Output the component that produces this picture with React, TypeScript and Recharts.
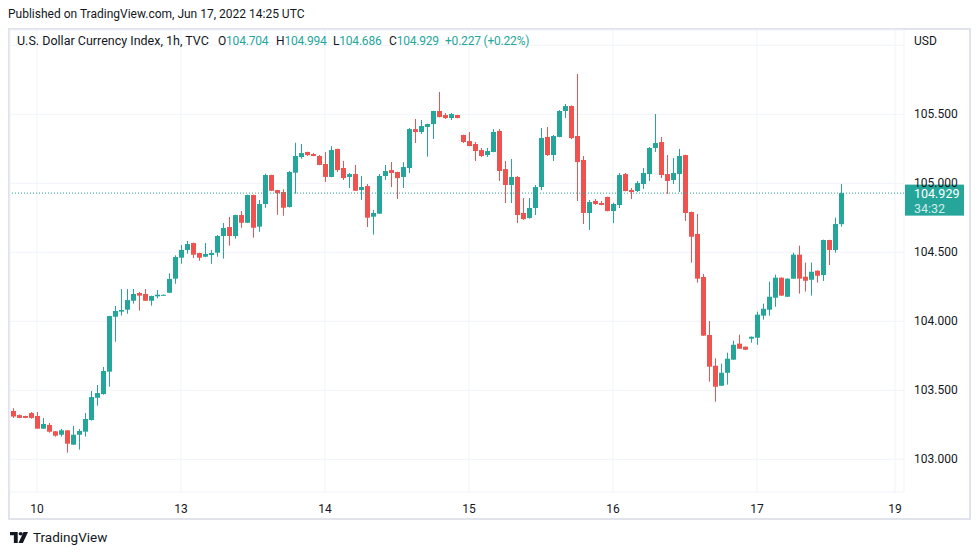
import React from "react";
import {
  ComposedChart,
  Bar,
  XAxis,
  YAxis,
  CartesianGrid,
  ReferenceLine,
} from "recharts";

// hourly candles, Jun 10 -> Jun 17 2022
const opens = [
  103.35, 103.32, 103.314, 103.335, 103.314, 103.222, 103.249, 103.203, 103.178, 103.21,
  103.106, 103.178, 103.2, 103.285, 103.446, 103.473, 103.635, 104.033, 104.07, 104.084,
  104.149, 104.205, 104.198, 104.149, 104.181, 104.19, 104.207, 104.309, 104.461, 104.517,
  104.567, 104.495, 104.468, 104.48, 104.497, 104.618, 104.683, 104.618, 104.77, 104.714,
  104.915, 104.686, 104.85, 105.06, 104.951, 104.937, 104.828, 105.077, 105.19, 105.227,
  105.212, 105.198, 105.14, 105.046, 105.249, 105.111, 105.046, 105.067, 104.951, 104.98,
  104.758, 104.78, 105.053, 105.096, 105.082, 105.046, 105.111, 105.393, 105.372, 105.408,
  105.43, 105.524, 105.495, 105.473, 105.495, 105.35, 105.306, 105.285, 105.241, 105.205,
  105.227, 105.379, 105.103, 104.988, 105.046, 104.785, 104.748, 104.821, 104.973, 105.336,
  105.205, 105.336, 105.524, 105.56, 105.343, 105.169, 104.785, 104.872, 104.857, 104.901,
  104.799, 104.843, 105.067, 104.951, 104.944, 104.995, 105.067, 105.256, 105.299, 105.067,
  105.024, 105.067, 105.205, 104.792, 104.633, 104.321, 103.901, 103.678, 103.533, 103.627,
  103.722, 103.838, 103.816, 103.874, 103.881, 104.041, 104.084, 104.171, 104.316, 104.178,
  104.309, 104.483, 104.323, 104.301, 104.367, 104.335, 104.589, 104.517, 104.704,
];
const highs = [
  103.37, 103.325, 103.316, 103.342, 103.343, 103.299, 103.263, 103.205, 103.22, 103.212,
  103.241, 103.22, 103.335, 103.495, 103.538, 103.669, 104.04, 104.111, 104.234, 104.234,
  104.234, 104.212, 104.234, 104.186, 104.227, 104.195, 104.348, 104.478, 104.553, 104.582,
  104.57, 104.497, 104.567, 104.517, 104.625, 104.712, 104.756, 104.772, 104.799, 104.918,
  104.918, 104.879, 105.07, 105.062, 104.953, 104.957, 105.089, 105.294, 105.285, 105.229,
  105.22, 105.205, 105.227, 105.27, 105.251, 105.162, 105.075, 105.133, 105.053, 104.995,
  104.807, 105.067, 105.133, 105.154, 105.084, 105.154, 105.401, 105.466, 105.459, 105.432,
  105.526, 105.662, 105.509, 105.509, 105.497, 105.352, 105.372, 105.299, 105.256, 105.256,
  105.393, 105.393, 105.162, 105.176, 105.053, 104.893, 104.893, 104.988, 105.401, 105.408,
  105.35, 105.531, 105.575, 105.565, 105.792, 105.198, 104.879, 104.886, 104.872, 104.903,
  104.86, 105.075, 105.075, 104.966, 105.017, 105.111, 105.263, 105.502, 105.336, 105.205,
  105.183, 105.249, 105.207, 104.795, 104.778, 104.343, 104.002, 103.732, 103.693, 103.773,
  103.859, 103.903, 103.818, 103.89, 104.07, 104.128, 104.287, 104.338, 104.318, 104.311,
  104.497, 104.548, 104.425, 104.425, 104.369, 104.592, 104.591, 104.751, 104.994,
];
const lows = [
  103.3, 103.298, 103.298, 103.294, 103.222, 103.22, 103.193, 103.164, 103.164, 103.048,
  103.104, 103.07, 103.164, 103.28, 103.388, 103.468, 103.526, 103.852, 104.041, 104.055,
  104.128, 104.077, 104.147, 104.113, 104.167, 104.188, 104.205, 104.272, 104.417, 104.49,
  104.459, 104.439, 104.464, 104.417, 104.468, 104.454, 104.548, 104.599, 104.678, 104.712,
  104.606, 104.649, 104.823, 104.944, 104.772, 104.765, 104.825, 104.925, 105.178, 105.198,
  105.196, 105.131, 105.009, 105.044, 105.082, 105.024, 104.966, 104.944, 104.879, 104.683,
  104.628, 104.778, 105.024, 104.973, 104.886, 104.966, 105.075, 105.292, 105.357, 105.193,
  105.321, 105.478, 105.466, 105.459, 105.471, 105.292, 105.268, 105.162, 105.191, 105.191,
  105.225, 105.017, 104.857, 104.857, 104.712, 104.734, 104.745, 104.77, 104.951, 105.198,
  105.162, 105.334, 105.473, 105.32, 104.872, 104.705, 104.662, 104.843, 104.841, 104.797,
  104.712, 104.821, 104.942, 104.886, 104.937, 104.959, 105.017, 105.227, 105.038, 104.922,
  104.995, 104.937, 104.727, 104.425, 104.28, 103.894, 103.562, 103.417, 103.531, 103.541,
  103.72, 103.799, 103.792, 103.845, 103.83, 104.012, 104.041, 104.106, 104.184, 104.176,
  104.307, 104.2, 104.215, 104.186, 104.28, 104.292, 104.408, 104.497, 104.686,
];
const closes = [
  103.31, 103.3, 103.3, 103.3, 103.222, 103.256, 103.2, 103.171, 103.21, 103.113,
  103.178, 103.205, 103.292, 103.451, 103.48, 103.64, 104.038, 104.075, 104.082, 104.154,
  104.198, 104.186, 104.149, 104.183, 104.193, 104.192, 104.307, 104.466, 104.517, 104.56,
  104.483, 104.461, 104.488, 104.495, 104.618, 104.676, 104.618, 104.77, 104.714, 104.915,
  104.678, 104.85, 105.06, 104.946, 104.928, 104.823, 105.082, 105.198, 105.219, 105.205,
  105.198, 105.133, 105.046, 105.241, 105.096, 105.038, 105.067, 104.946, 104.973, 104.751,
  104.785, 105.053, 105.089, 105.075, 105.038, 105.118, 105.393, 105.372, 105.415, 105.43,
  105.524, 105.48, 105.473, 105.502, 105.473, 105.299, 105.27, 105.234, 105.198, 105.234,
  105.372, 105.089, 104.988, 105.046, 104.77, 104.741, 104.821, 104.973, 105.328, 105.205,
  105.343, 105.524, 105.56, 105.328, 105.154, 104.785, 104.864, 104.85, 104.843, 104.799,
  104.85, 105.06, 104.944, 104.937, 105.002, 105.075, 105.256, 105.292, 105.06, 105.017,
  105.075, 105.198, 104.785, 104.613, 104.309, 103.896, 103.671, 103.526, 103.627, 103.729,
  103.83, 103.801, 103.794, 103.888, 104.048, 104.091, 104.178, 104.316, 104.186, 104.309,
  104.483, 104.309, 104.294, 104.359, 104.33, 104.589, 104.517, 104.705, 104.929,
];

// bar slots incl. empty space to the right of the last candle
const slotCount = 149;
const dayTicks = [4, 28, 52, 76, 100, 124, 147];
const dayLabels = ["10", "13", "14", "15", "16", "17", "19"];
const priceTicks = [103, 103.5, 104, 104.5, 105, 105.5, 106];
const lastPrice = 104.929;
const countdown = "34:32";
const legendItems = [
  { key: "O", value: "104.704", left: 218 },
  { key: "H", value: "104.994", left: 276 },
  { key: "L", value: "104.686", left: 333 },
  { key: "C", value: "104.929", left: 389 },
  { key: "", value: "+0.227 (+0.22%)", left: 445 },
];

const UP = "#26a69a";
const DOWN = "#ef5350";
const TEXT = "#131722";
const GRID = "#f0f3fa";
const FONT = "Roboto, 'Noto Sans', sans-serif";

const data = Array.from({ length: slotCount }, (_, i) =>
  i < opens.length
    ? { i, o: opens[i], h: highs[i], l: lows[i], c: closes[i] }
    : { i }
);

const Candle = (props: any) => {
  const { x, y, width, height, payload } = props;
  if (payload == null || payload.o == null) return null;
  const { o, h, l, c } = payload;
  const top = Math.min(y, y + height);
  const k = Math.abs(height) / (h - l);
  const yOf = (v: number) => top + (h - v) * k;
  const color = c >= o ? UP : DOWN;
  const rx = Math.round(x);
  const w = Math.round(width);
  const cx = rx + Math.floor(w / 2) + 0.5;
  const bodyTop = yOf(Math.max(o, c));
  const bodyH = Math.max(1, yOf(Math.min(o, c)) - bodyTop);
  return (
    <g>
      <line x1={cx} x2={cx} y1={yOf(h)} y2={yOf(l)} stroke={color} strokeWidth={1} />
      <rect x={rx} y={bodyTop} width={w} height={bodyH} fill={color} />
    </g>
  );
};

const PriceTick = (props: any) => {
  const { x, y, payload } = props;
  const v = payload.value as number;
  if (v === 106) {
    return (
      <text x={x} y={y} dy={-4} dominantBaseline="central" fontSize={12} fill={TEXT} fontFamily={FONT}>
        USD
      </text>
    );
  }
  return (
    <text x={x} y={y} dominantBaseline="central" fontSize={12} fill={TEXT} fontFamily={FONT}>
      {v.toFixed(3)}
    </text>
  );
};

const LastPriceTag = (props: any) => {
  const vb = props.viewBox || {};
  const right = vb.x + vb.width;
  const ly = vb.y;
  return (
    <g>
      <rect x={right + 1} y={ly - 8.5} width={59} height={31} fill={UP} />
      <text x={right + 10} y={ly} dominantBaseline="central" fontSize={12.5} fill="#ffffff" fontFamily={FONT}>
        {lastPrice.toFixed(3)}
      </text>
      <text x={right + 10} y={ly + 15} dominantBaseline="central" fontSize={12.5} fill="rgba(255,255,255,0.8)" fontFamily={FONT}>
        {countdown}
      </text>
    </g>
  );
};

const TvLogo = () => (
  <svg width="18" height="11" viewBox="0 0 14 10" preserveAspectRatio="none" style={{ marginRight: 5 }}>
    <path d="M0 0h6v10H3V3H0z" fill={TEXT} />
    <circle cx="8.3" cy="1.6" r="1.6" fill={TEXT} />
    <path d="M10.5 0H14L10 10H6.6z" fill={TEXT} />
  </svg>
);

export default function App() {
  return (
    <div
      style={{
        position: "relative",
        width: 979,
        height: 555,
        background: "#ffffff",
        fontFamily: FONT,
        color: TEXT,
        overflow: "hidden",
      }}
    >
      <style>{`body{margin:0}`}</style>
      <div style={{ position: "absolute", left: 8, top: 6, fontSize: 12, lineHeight: "16px" }}>
        Published on TradingView.com, Jun 17, 2022 14:25 UTC
      </div>
      <div
        style={{
          position: "absolute",
          left: 8,
          top: 28,
          width: 963,
          height: 492,
          boxSizing: "border-box",
          border: "2px solid #e0e3eb",
        }}
      />
      <ComposedChart
        width={979}
        height={555}
        data={data}
        margin={{ top: 30, right: 9, bottom: 35, left: 10 }}
        barCategoryGap={0}
        style={{ position: "absolute", left: 0, top: 0 }}
      >
        <CartesianGrid stroke={GRID} vertical horizontal />
        <XAxis
          dataKey="i"
          type="category"
          ticks={dayTicks}
          interval={0}
          tickFormatter={(v: number) => dayLabels[dayTicks.indexOf(v)] ?? ""}
          axisLine={false}
          tickLine={false}
          height={28}
          tickMargin={6}
          tick={{ fontSize: 12, fill: TEXT, fontFamily: FONT }}
        />
        <YAxis
          orientation="right"
          type="number"
          domain={[102.763, 106.111]}
          allowDataOverflow
          ticks={priceTicks}
          interval={0}
          axisLine={false}
          tickLine={false}
          tickMargin={4}
          width={66}
          tick={<PriceTick />}
        />
        <Bar
          dataKey={(d: any) => (d.o == null ? null : [d.l, d.h])}
          barSize={5}
          shape={<Candle />}
          isAnimationActive={false}
        />
        <ReferenceLine
          y={lastPrice}
          stroke={UP}
          strokeDasharray="1 2"
          label={(p: any) => <LastPriceTag {...p} />}
        />
      </ComposedChart>
      <div
        style={{
          position: "absolute",
          left: 17,
          top: 33,
          fontSize: 12.5,
          lineHeight: "16px",
          whiteSpace: "pre",
        }}
      >
        U.S. Dollar Currency Index, 1h, TVC
      </div>
      {legendItems.map((it) => (
        <div
          key={it.left}
          style={{
            position: "absolute",
            left: it.left,
            top: 33,
            fontSize: 12,
            lineHeight: "16px",
            whiteSpace: "pre",
            letterSpacing: -0.2,
          }}
        >
          {it.key}
          <span style={{ color: UP }}>{it.value}</span>
        </div>
      ))}
      <div
        style={{
          position: "absolute",
          left: 10,
          top: 529,
          fontSize: 13.5,
          lineHeight: "16px",
          display: "flex",
          alignItems: "center",
        }}
      >
        <TvLogo />
        TradingView
      </div>
    </div>
  );
}
